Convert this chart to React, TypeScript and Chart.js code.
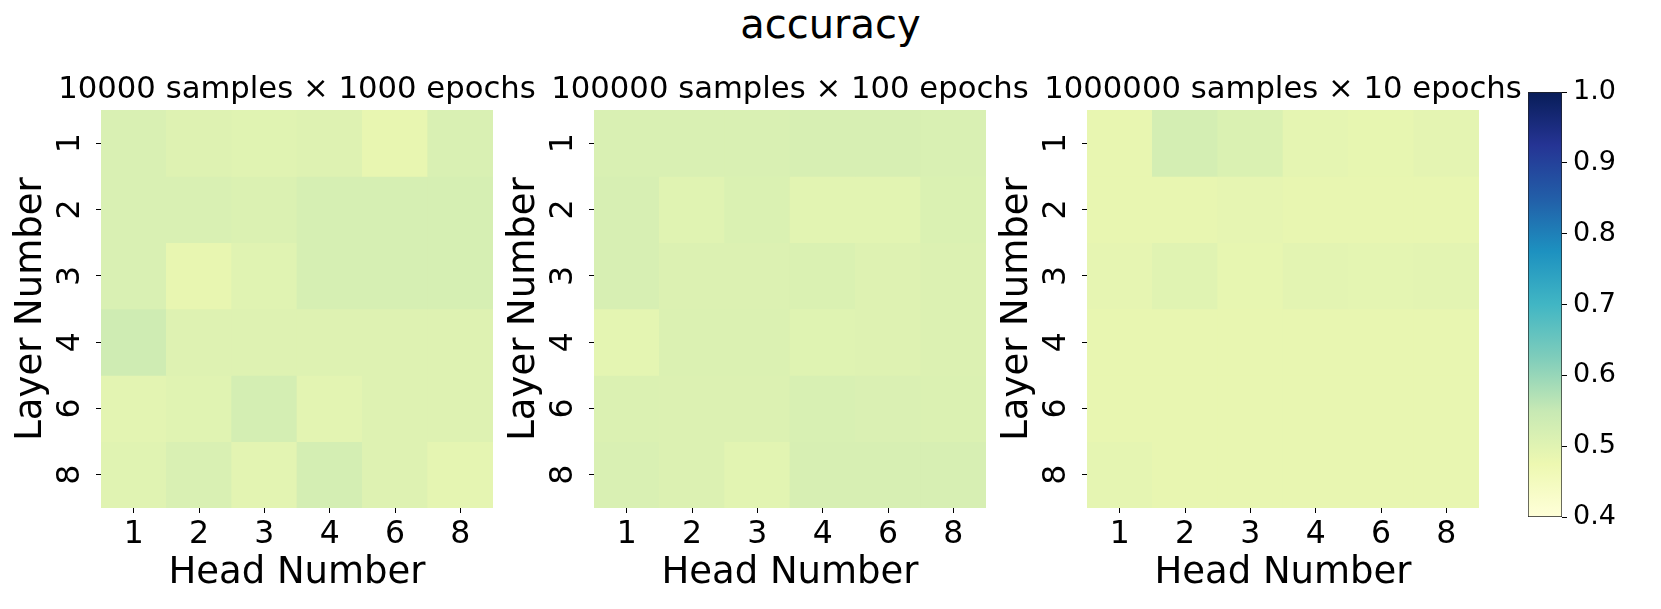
import React, { useEffect, useRef } from "react";
import { Chart, registerables } from "chart.js";

Chart.register(...registerables);

const FIG_W = 1661;
const FIG_H = 609;

const suptitle = "accuracy";
const panelTitles = [
  "10000 samples × 1000 epochs",
  "100000 samples × 100 epochs",
  "1000000 samples × 10 epochs",
];
const heads = ["1", "2", "3", "4", "6", "8"];
const layers = ["1", "2", "3", "4", "6", "8"];
const xAxisTitle = "Head Number";
const yAxisTitle = "Layer Number";

// rows = layers (1,2,3,4,6,8), cols = heads (1,2,3,4,6,8)
const acc10k = [
  [0.515, 0.505, 0.5, 0.505, 0.485, 0.515],
  [0.515, 0.515, 0.51, 0.52, 0.52, 0.52],
  [0.515, 0.485, 0.5, 0.52, 0.52, 0.52],
  [0.535, 0.505, 0.505, 0.505, 0.505, 0.505],
  [0.495, 0.5, 0.525, 0.495, 0.505, 0.505],
  [0.5, 0.515, 0.495, 0.525, 0.505, 0.49],
];
const acc100k = [
  [0.515, 0.515, 0.515, 0.518, 0.518, 0.515],
  [0.518, 0.5, 0.512, 0.497, 0.497, 0.512],
  [0.518, 0.508, 0.508, 0.512, 0.505, 0.508],
  [0.492, 0.51, 0.51, 0.502, 0.505, 0.508],
  [0.51, 0.508, 0.508, 0.517, 0.513, 0.51],
  [0.515, 0.508, 0.497, 0.518, 0.518, 0.518],
];
const acc1m = [
  [0.485, 0.525, 0.512, 0.49, 0.487, 0.493],
  [0.485, 0.485, 0.488, 0.485, 0.485, 0.485],
  [0.488, 0.5, 0.487, 0.495, 0.492, 0.495],
  [0.484, 0.484, 0.484, 0.484, 0.484, 0.484],
  [0.484, 0.484, 0.484, 0.484, 0.485, 0.484],
  [0.49, 0.484, 0.484, 0.484, 0.484, 0.484],
];
const panelData = [acc10k, acc100k, acc1m];

const vMin = 0.4;
const vMax = 1.0;
const colorbarTicks = [0.4, 0.5, 0.6, 0.7, 0.8, 0.9, 1.0];

// YlGnBu colormap stops
const ylGnBu: [number, number, number][] = [
  [255, 255, 217],
  [237, 248, 177],
  [199, 233, 180],
  [127, 205, 187],
  [65, 182, 196],
  [29, 145, 192],
  [34, 94, 168],
  [37, 52, 148],
  [8, 29, 88],
];

function cmap(t: number): string {
  const n = Math.max(0, Math.min(1, t)) * (ylGnBu.length - 1);
  const i = Math.min(ylGnBu.length - 2, Math.floor(n));
  const f = n - i;
  const a = ylGnBu[i];
  const b = ylGnBu[i + 1];
  const c = a.map((v, k) => Math.round(v + (b[k] - v) * f));
  return `rgb(${c[0]},${c[1]},${c[2]})`;
}
const valueColor = (v: number) => cmap((v - vMin) / (vMax - vMin));

const FONT = "'DejaVu Sans', sans-serif";

// layout geometry
const panelLefts = [101, 594, 1087];
const panelW = 392;
const areaBottom = 508;
const yAxisW = 90;
const xAxisH = 83.5;
const titleTopPad = 72;

function makeHeatmap(canvas: HTMLCanvasElement, idx: number) {
  const data = panelData[idx];
  const left = panelLefts[idx];
  const datasets = layers.map((_, r) => ({
    label: "Layer " + layers[r],
    data: heads.map(() => [r, r + 1] as [number, number]),
    backgroundColor: data[r].map((v) => valueColor(v)),
    borderWidth: 0,
    grouped: false,
    barPercentage: 1,
    categoryPercentage: 1,
    yAxisID: "y",
  }));
  return new Chart(canvas, {
    type: "bar",
    data: { labels: heads, datasets: datasets as any },
    options: {
      animation: false,
      responsive: false,
      events: [],
      layout: {
        padding: {
          left: left - yAxisW,
          right: FIG_W - (left + panelW) - yAxisW,
          top: titleTopPad,
          bottom: FIG_H - areaBottom - xAxisH,
        },
      },
      plugins: {
        legend: { display: false },
        tooltip: { enabled: false },
        title: {
          display: true,
          text: panelTitles[idx],
          fullSize: true,
          color: "#000",
          font: { family: FONT, size: 30.7, weight: "normal", lineHeight: 1.2 },
          padding: { top: 0, bottom: 1.2 },
        },
      },
      scales: {
        x: {
          type: "category",
          offset: true,
          border: { display: false },
          grid: {
            offset: false,
            drawOnChartArea: false,
            drawTicks: true,
            tickLength: 5,
            tickColor: "#000",
            tickWidth: 1,
          },
          ticks: {
            color: "#000",
            font: { family: FONT, size: 31.5 },
            padding: 3,
            maxRotation: 0,
            minRotation: 0,
          },
          title: {
            display: true,
            text: xAxisTitle,
            color: "#000",
            font: { family: FONT, size: 37, lineHeight: 1 },
            padding: { top: 0, bottom: 0 },
          },
          afterFit: (s: any) => {
            s.height = xAxisH;
          },
        },
        y: {
          type: "linear",
          min: 0,
          max: layers.length,
          reverse: true,
          border: { display: false },
          grid: {
            drawOnChartArea: false,
            drawTicks: true,
            tickLength: 5,
            tickColor: "#000",
            tickWidth: 1,
          },
          afterBuildTicks: (s: any) => {
            s.ticks = layers.map((_, i) => ({ value: i + 0.5 }));
          },
          ticks: {
            color: "#000",
            font: { family: FONT, size: 31.5 },
            padding: 15.5,
            minRotation: 90,
            maxRotation: 90,
            crossAlign: "center",
            callback: (_v: any, i: number) => layers[i],
          },
          title: {
            display: true,
            text: yAxisTitle,
            color: "#000",
            font: { family: FONT, size: 37, lineHeight: 1 },
            padding: { top: 1.5, bottom: 0 },
          },
          afterFit: (s: any) => {
            s.width = yAxisW;
          },
        },
        // invisible spacer axis so the panel title is centred over the cells
        yRight: {
          type: "linear",
          position: "right",
          display: true,
          border: { display: false },
          grid: { display: false, drawTicks: false },
          ticks: { display: false },
          afterFit: (s: any) => {
            s.width = yAxisW;
          },
        },
      },
    } as any,
  });
}

const cbLeft = 1528;
const cbRight = 1562;
const cbTop = 92;
const cbBottom = 517;
const cbAxisW = 70;

function makeColorbar(canvas: HTMLCanvasElement) {
  return new Chart(canvas, {
    type: "bar",
    data: {
      labels: ["cb"],
      datasets: [
        {
          label: "colorbar",
          data: [[vMin, vMax]] as any,
          backgroundColor: (ctx: any) => {
            const chart = ctx.chart;
            const y = chart.scales && chart.scales.y;
            if (!chart.chartArea || !y) return valueColor(0.7);
            const y0 = y.getPixelForValue(vMin);
            const y1 = y.getPixelForValue(vMax);
            if (!isFinite(y0) || !isFinite(y1)) return valueColor(0.7);
            const g = chart.ctx.createLinearGradient(0, y0, 0, y1);
            for (let k = 0; k < ylGnBu.length; k++) {
              g.addColorStop(k / (ylGnBu.length - 1), cmap(k / (ylGnBu.length - 1)));
            }
            return g;
          },
          borderColor: "#222",
          borderWidth: 1,
          borderSkipped: false,
          barPercentage: 1,
          categoryPercentage: 1,
        },
      ],
    },
    options: {
      animation: false,
      responsive: false,
      events: [],
      layout: {
        padding: {
          left: cbLeft,
          right: FIG_W - cbRight - cbAxisW,
          top: cbTop,
          bottom: FIG_H - cbBottom,
        },
      },
      plugins: { legend: { display: false }, tooltip: { enabled: false } },
      scales: {
        x: { type: "category", display: false },
        y: {
          type: "linear",
          position: "right",
          min: vMin,
          max: vMax,
          border: { display: false },
          grid: {
            drawOnChartArea: false,
            drawTicks: true,
            tickLength: 5,
            tickColor: "#000",
            tickWidth: 1,
          },
          afterBuildTicks: (s: any) => {
            s.ticks = colorbarTicks.map((v) => ({ value: v }));
          },
          ticks: {
            color: "#000",
            font: { family: FONT, size: 27 },
            padding: 6,
            callback: (v: any) => Number(v).toFixed(1),
          },
          afterFit: (s: any) => {
            s.width = cbAxisW;
          },
        },
      },
    } as any,
  });
}

const canvasStyle: React.CSSProperties = {
  position: "absolute",
  left: 0,
  top: 0,
  width: FIG_W,
  height: FIG_H,
};

export default function App() {
  const r0 = useRef<HTMLCanvasElement>(null);
  const r1 = useRef<HTMLCanvasElement>(null);
  const r2 = useRef<HTMLCanvasElement>(null);
  const rc = useRef<HTMLCanvasElement>(null);

  useEffect(() => {
    const charts: Chart[] = [];
    [r0, r1, r2].forEach((r, i) => {
      if (r.current) charts.push(makeHeatmap(r.current, i));
    });
    if (rc.current) {
      const cb = makeColorbar(rc.current);
      charts.push(cb);
      cb.update();
    }
    return () => charts.forEach((c) => c.destroy());
  }, []);

  return (
    <div
      style={{
        position: "absolute",
        left: 0,
        top: 0,
        width: FIG_W,
        height: FIG_H,
        background: "#fff",
        overflow: "hidden",
      }}
    >
      <div
        style={{
          position: "absolute",
          left: 0,
          top: 4,
          width: FIG_W,
          textAlign: "center",
          fontFamily: FONT,
          fontSize: 40,
          lineHeight: "40px",
          color: "#000",
        }}
      >
        {suptitle}
      </div>
      <canvas ref={r0} width={FIG_W} height={FIG_H} style={canvasStyle} />
      <canvas ref={r1} width={FIG_W} height={FIG_H} style={canvasStyle} />
      <canvas ref={r2} width={FIG_W} height={FIG_H} style={canvasStyle} />
      <canvas ref={rc} width={FIG_W} height={FIG_H} style={canvasStyle} />
    </div>
  );
}
